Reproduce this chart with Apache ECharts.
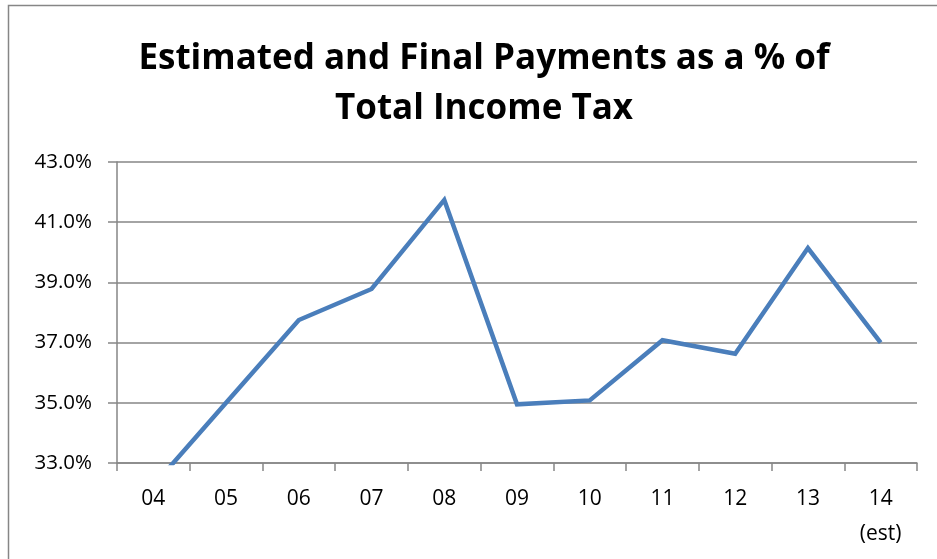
<!DOCTYPE html>
<html><head><meta charset="utf-8">
<script src="https://cdn.jsdelivr.net/npm/echarts@6/dist/echarts.min.js"></script>
<style>html,body{margin:0;padding:0;background:#fff}#c{width:937px;height:559px}</style>
</head><body><div id="c"></div>
<script>
var titleText = 'Estimated and Final Payments as a % of\nTotal Income Tax';
var categories = ['04','05','06','07','08','09','10','11','12','13','14\n(est)'];
var values = [32.25, 35.0, 37.75, 38.78, 41.74, 34.95, 35.08, 37.08, 36.63, 40.14, 37.0];
var yMin = 33, yMax = 43, yStep = 2;

var chart = echarts.init(document.getElementById('c'), null, {renderer:'canvas'});
var font = 'Open Sans, Liberation Sans, sans-serif';
chart.setOption({
  animation:false,
  backgroundColor:'#fff',
  graphic:[{type:'rect',shape:{x:8.5,y:5.5,width:1000,height:1000},style:{fill:'none',stroke:'#868686',lineWidth:1.5},silent:true}],
  title:{text:titleText,left:479,top:29,textAlign:'center',textStyle:{fontFamily:font,fontWeight:'bold',fontSize:35,lineHeight:50,color:'#000'}},
  grid:{left:117,right:20,top:162,bottom:96,containLabel:false},
  xAxis:{type:'category',data:categories,boundaryGap:true,
    axisLine:{lineStyle:{color:'#868686',width:1.5}},
    axisTick:{show:true,alignWithLabel:false,length:8,lineStyle:{color:'#868686',width:1.5}},
    axisLabel:{fontFamily:font,fontSize:21,color:'#000',margin:19,lineHeight:35,interval:0}},
  yAxis:{type:'value',min:yMin,max:yMax,interval:yStep,
    axisLine:{show:true,lineStyle:{color:'#868686',width:1.5}},
    axisTick:{show:true,length:9,lineStyle:{color:'#868686',width:1.5}},
    splitLine:{lineStyle:{color:'#868686',width:1.5}},
    axisLabel:{fontFamily:font,fontSize:20.5,color:'#000',margin:25,formatter:function(v){return v.toFixed(1)+'%';}}},
  series:[{type:'line',data:values,symbol:'none',clip:true,lineStyle:{color:'#4a7ebb',width:4.5,join:'miter'}}]
});
</script></body></html>
